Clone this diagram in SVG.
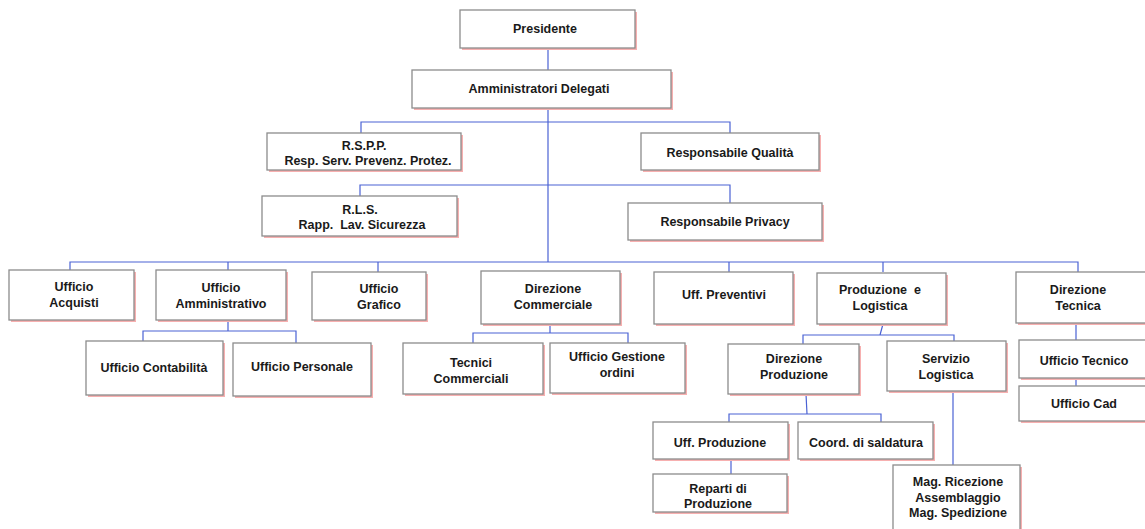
<svg xmlns="http://www.w3.org/2000/svg" width="1145" height="529" viewBox="0 0 1145 529">
<style>
.sh{fill:#f7b0b0;stroke:none}
.bx{fill:#ffffff;stroke:#8c8c8c;stroke-width:1.3}
.t{font-family:"Liberation Sans",Arial,sans-serif;font-weight:bold;font-size:12.5px;fill:#1a1a1a;text-anchor:middle;white-space:pre}
.c{fill:none;stroke:#4a62d4;stroke-width:1.2}
</style>
<rect width="1145" height="529" fill="#ffffff"/>
<g id="connectors" class="c">
<path d="M548 48V262"/>
<path d="M361 133V122H730V133"/>
<path d="M360 196V185H730V203"/>
<path d="M70 270V262H1078V272"/>
<path d="M228 262V270M378 262V272M729 262V272M883 262V272"/>
<path d="M228 320V331M143 341V331H296V343"/>
<path d="M550 324V333M473 343V333H628V343"/>
<path d="M883 324L880 335M803 344V335H954V341"/>
<path d="M806 394L807 414M729 422V414H881V422"/>
<path d="M731 459V474"/>
<path d="M953 391V465"/>
<path d="M1076 323V340M1076 378V386"/>
</g>
<g id="presidente"><rect class="sh" x="462" y="12" width="175" height="38"/><rect class="bx" x="460" y="10" width="175" height="38"/><text class="t" x="545" y="33">Presidente</text></g>
<g id="amministratori"><rect class="sh" x="414" y="72" width="259" height="38"/><rect class="bx" x="412" y="70" width="259" height="38"/><text class="t" x="539" y="93">Amministratori Delegati</text></g>
<g id="rspp"><rect class="sh" x="269" y="135" width="194" height="37"/><rect class="bx" x="267" y="133" width="194" height="37"/><text class="t" x="364" y="150">R.S.P.P.</text><text class="t" x="368" y="165">Resp. Serv. Prevenz. Protez.</text></g>
<g id="qualita"><rect class="sh" x="643" y="135" width="178" height="37"/><rect class="bx" x="641" y="133" width="178" height="37"/><text class="t" x="730" y="157">Responsabile Qualità</text></g>
<g id="rls"><rect class="sh" x="264" y="198" width="195" height="40"/><rect class="bx" x="262" y="196" width="195" height="40"/><text class="t" x="360" y="214">R.L.S.</text><text class="t" x="362" y="229">Rapp.  Lav. Sicurezza</text></g>
<g id="privacy"><rect class="sh" x="630" y="205" width="194" height="37"/><rect class="bx" x="628" y="203" width="194" height="37"/><text class="t" x="725" y="226">Responsabile Privacy</text></g>
<g id="acquisti"><rect class="sh" x="11" y="272" width="125" height="50"/><rect class="bx" x="9" y="270" width="125" height="50"/><text class="t" x="74" y="291">Ufficio</text><text class="t" x="74" y="307">Acquisti</text></g>
<g id="amministrativo"><rect class="sh" x="158" y="272" width="130" height="50"/><rect class="bx" x="156" y="270" width="130" height="50"/><text class="t" x="221" y="292">Ufficio</text><text class="t" x="221" y="308">Amministrativo</text></g>
<g id="grafico"><rect class="sh" x="314" y="274" width="114" height="48"/><rect class="bx" x="312" y="272" width="114" height="48"/><text class="t" x="379" y="293">Ufficio</text><text class="t" x="379" y="309">Grafico</text></g>
<g id="dircommerciale"><rect class="sh" x="483" y="273" width="139" height="53"/><rect class="bx" x="481" y="271" width="139" height="53"/><text class="t" x="553" y="293">Direzione</text><text class="t" x="553" y="309">Commerciale</text></g>
<g id="preventivi"><rect class="sh" x="656" y="274" width="139" height="52"/><rect class="bx" x="654" y="272" width="139" height="52"/><text class="t" x="724" y="299">Uff. Preventivi</text></g>
<g id="prodlogistica"><rect class="sh" x="819" y="275" width="129" height="51"/><rect class="bx" x="817" y="273" width="129" height="51"/><text class="t" x="880" y="294">Produzione  e</text><text class="t" x="880" y="310">Logistica</text></g>
<g id="dirtecnica"><rect class="sh" x="1018" y="274" width="140" height="51"/><rect class="bx" x="1016" y="272" width="140" height="51"/><text class="t" x="1078" y="294">Direzione</text><text class="t" x="1078" y="310">Tecnica</text></g>
<g id="contabilita"><rect class="sh" x="88" y="343" width="137" height="54"/><rect class="bx" x="86" y="341" width="137" height="54"/><text class="t" x="154" y="372">Ufficio Contabilità</text></g>
<g id="personale"><rect class="sh" x="235" y="345" width="138" height="53"/><rect class="bx" x="233" y="343" width="138" height="53"/><text class="t" x="302" y="371">Ufficio Personale</text></g>
<g id="tecnicicomm"><rect class="sh" x="405" y="345" width="140" height="51"/><rect class="bx" x="403" y="343" width="140" height="51"/><text class="t" x="471" y="367">Tecnici</text><text class="t" x="471" y="383">Commerciali</text></g>
<g id="gestioneordini"><rect class="sh" x="552" y="345" width="135" height="50"/><rect class="bx" x="550" y="343" width="135" height="50"/><text class="t" x="617" y="361">Ufficio Gestione</text><text class="t" x="617" y="377">ordini</text></g>
<g id="dirproduzione"><rect class="sh" x="730" y="346" width="131" height="50"/><rect class="bx" x="728" y="344" width="131" height="50"/><text class="t" x="794" y="363">Direzione</text><text class="t" x="794" y="379">Produzione</text></g>
<g id="servlogistica"><rect class="sh" x="889" y="343" width="119" height="50"/><rect class="bx" x="887" y="341" width="119" height="50"/><text class="t" x="946" y="363">Servizio</text><text class="t" x="946" y="379">Logistica</text></g>
<g id="ufftecnico"><rect class="sh" x="1021" y="342" width="140" height="38"/><rect class="bx" x="1019" y="340" width="140" height="38"/><text class="t" x="1084" y="365">Ufficio Tecnico</text></g>
<g id="uffcad"><rect class="sh" x="1021" y="388" width="140" height="35"/><rect class="bx" x="1019" y="386" width="140" height="35"/><text class="t" x="1084" y="408">Ufficio Cad</text></g>
<g id="uffproduzione"><rect class="sh" x="655" y="424" width="135" height="37"/><rect class="bx" x="653" y="422" width="135" height="37"/><text class="t" x="720" y="447">Uff. Produzione</text></g>
<g id="saldatura"><rect class="sh" x="800" y="424" width="135" height="37"/><rect class="bx" x="798" y="422" width="135" height="37"/><text class="t" x="866" y="447">Coord. di saldatura</text></g>
<g id="reparti"><rect class="sh" x="655" y="476" width="134" height="38"/><rect class="bx" x="653" y="474" width="134" height="38"/><text class="t" x="718" y="493">Reparti di</text><text class="t" x="718" y="508">Produzione</text></g>
<g id="magazzino"><rect class="sh" x="895" y="467" width="127" height="70"/><rect class="bx" x="893" y="465" width="127" height="70"/><text class="t" x="958" y="486">Mag. Ricezione</text><text class="t" x="958" y="502">Assemblaggio</text><text class="t" x="958" y="517">Mag. Spedizione</text></g>
</svg>
